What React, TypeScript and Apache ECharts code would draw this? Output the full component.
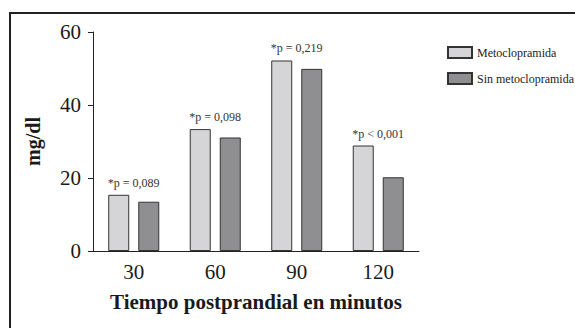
import React, { useEffect, useRef } from "react";
import * as echarts from "echarts";

const categories = ["30", "60", "90", "120"];
const metoclopramida = [15.4, 33.4, 52.2, 28.9];
const sinMetoclopramida = [13.5, 31.1, 49.9, 20.2];
const pLabels = ["*p = 0,089", "*p = 0,098", "*p = 0,219", "*p < 0,001"];
const seriesNames = ["Metoclopramida", "Sin metoclopramida"];

const SERIF = "Liberation Serif";

export default function App() {
  const ref = useRef<HTMLDivElement>(null);
  useEffect(() => {
    if (!ref.current) return;
    const chart = echarts.init(ref.current, null, { renderer: "svg" });
    chart.setOption({
      animation: false,
      backgroundColor: "#ffffff",
      textStyle: { fontFamily: SERIF },
      graphic: [
        {
          type: "rect",
          shape: { x: 10, y: 13, width: 700, height: 500 },
          style: { fill: "none", stroke: "#222", lineWidth: 2 },
          silent: true,
        },
      ],
      grid: { left: 93, right: 156, top: 32, bottom: 77 },
      legend: {
        orient: "vertical",
        left: 442,
        top: 41,
        itemWidth: 24,
        itemHeight: 11,
        itemGap: 13,
        icon: "rect",
        data: seriesNames,
        textStyle: { fontFamily: SERIF, fontSize: 12, color: "#222" },
      },
      xAxis: {
        type: "category",
        data: categories,
        axisLine: { lineStyle: { color: "#222", width: 1 } },
        axisTick: { alignWithLabel: true, length: 5, lineStyle: { color: "#222" } },
        axisLabel: { fontFamily: SERIF, fontSize: 21, color: "#1a1a1a", margin: 10 },
        name: "Tiempo postprandial en minutos",
        nameLocation: "middle",
        nameGap: 40,
        nameTextStyle: { fontFamily: SERIF, fontSize: 21, fontWeight: "bold", color: "#1a1a1a" },
      },
      yAxis: {
        type: "value",
        min: 0,
        max: 60,
        interval: 20,
        axisLine: { show: true, lineStyle: { color: "#222", width: 1 } },
        axisTick: { show: true, length: 5, lineStyle: { color: "#222" } },
        splitLine: { show: false },
        axisLabel: { fontFamily: SERIF, fontSize: 21, color: "#1a1a1a", margin: 12 },
        name: "mg/dl",
        nameLocation: "middle",
        nameGap: 50,
        nameRotate: 90,
        nameTextStyle: { fontFamily: SERIF, fontSize: 20, fontWeight: "bold", color: "#1a1a1a" },
      },
      series: [
        {
          name: seriesNames[0],
          type: "bar",
          data: metoclopramida,
          barWidth: 21,
          barGap: "43%",
          itemStyle: { color: "#d5d5d7", borderColor: "#333", borderWidth: 1 },
          label: {
            show: true,
            position: "top",
            distance: 6,
            offset: [15, 0],
            fontFamily: SERIF,
            fontSize: 12,
            color: "#333",
            formatter: (p: any) => pLabels[p.dataIndex],
          },
        },
        {
          name: seriesNames[1],
          type: "bar",
          data: sinMetoclopramida,
          barWidth: 21,
          barGap: "43%",
          itemStyle: { color: "#8f8f92", borderColor: "#333", borderWidth: 1 },
        },
      ],
    });
    return () => chart.dispose();
  }, []);
  return (
    <div
      ref={ref}
      style={{ position: "fixed", left: 0, top: 0, width: 575, height: 328 }}
    />
  );
}
